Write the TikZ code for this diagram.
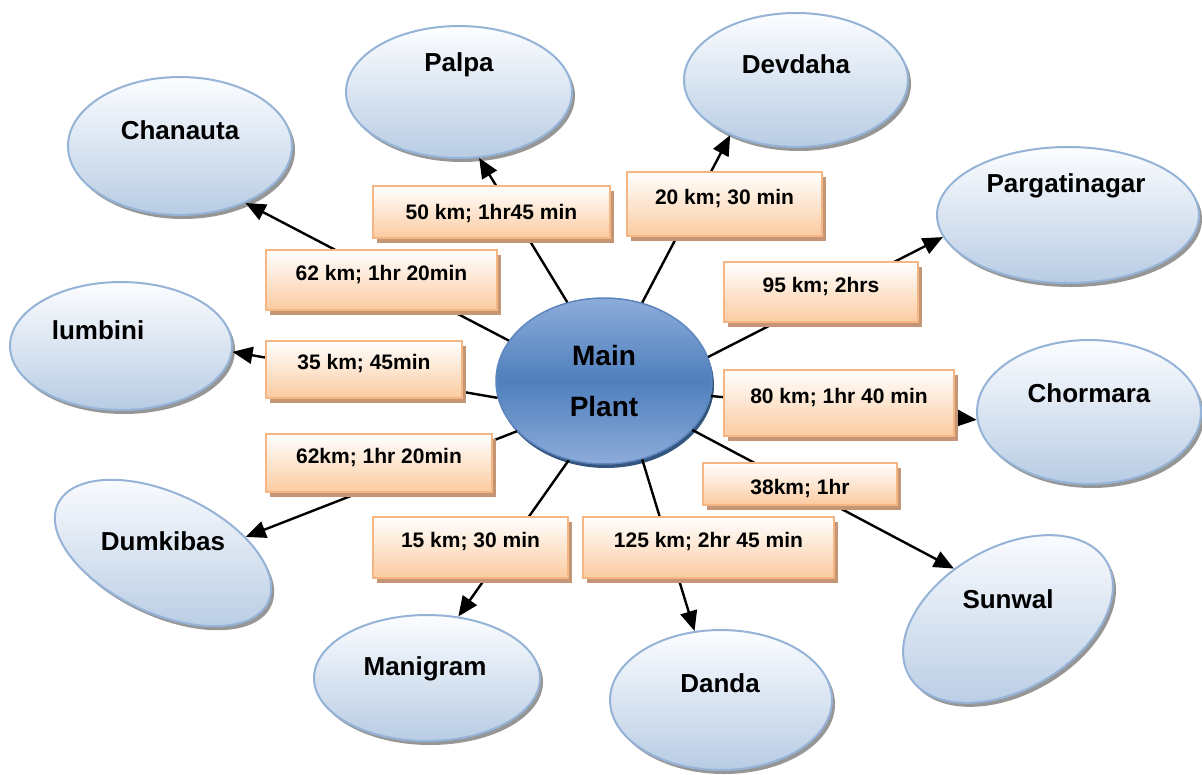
\documentclass[tikz,border=0pt]{standalone}
\usepackage{fontspec}
\setmainfont{Liberation Sans}
\usetikzlibrary{shapes.geometric,shadows,arrows.meta}

\definecolor{townedge}{RGB}{149,179,215}
\definecolor{towntop}{RGB}{252,253,255}
\definecolor{townbot}{RGB}{184,204,228}
\definecolor{townshadow}{RGB}{150,150,150}
\definecolor{hubedge}{RGB}{92,133,190}
\definecolor{hubmid}{RGB}{79,127,189}
\definecolor{hubrim}{RGB}{141,172,218}
\definecolor{hubshadow}{RGB}{52,85,126}
\definecolor{boxedge}{RGB}{246,182,132}
\definecolor{boxbot}{RGB}{251,203,160}
\definecolor{boxshadow}{RGB}{196,150,118}

\tikzset{
  town/.style={ellipse, draw=townedge, line width=2pt, inner sep=0pt,
    top color=towntop, bottom color=townbot,
    drop shadow={shadow xshift=3pt, shadow yshift=-4pt, fill=townshadow, opacity=1}},
  townname/.style={font=\fontsize{26}{30}\selectfont\bfseries},
  hub/.style={ellipse, draw=hubedge, line width=1.5pt, inner sep=0pt,
    top color=hubrim, bottom color=hubrim, middle color=hubmid,
    minimum width=216pt, minimum height=166pt, align=center,
    font=\fontsize{28}{51}\selectfont\bfseries,
    drop shadow={shadow xshift=2pt, shadow yshift=-4pt, fill=hubshadow, opacity=1}},
  dist/.style={rectangle, draw=boxedge, line width=2pt, inner sep=0pt,
    top color=white, bottom color=boxbot, text height=14pt, text depth=14pt,
    font=\fontsize{21}{25}\selectfont\bfseries,
    drop shadow={shadow xshift=4pt, shadow yshift=-5pt, fill=boxshadow, opacity=1}},
  link/.style={line width=2.4pt, -{Triangle[length=20pt,width=17pt]}}
}

\begin{document}
\begin{tikzpicture}[x=1pt,y=-1pt]
  \useasboundingbox (0,0) rectangle (1202,774);
  % towns round the plant
  \draw
    (459,92) node[town, minimum width=226pt, minimum height=132pt] (palpa){}
    (796,80) node[town, minimum width=224pt, minimum height=134pt] (devdaha){}
    (180,146) node[town, minimum width=224pt, minimum height=138pt] (chanauta){}
    (1068,215) node[town, minimum width=262pt, minimum height=136pt] (pargatinagar){}
    (121,346) node[town, minimum width=222pt, minimum height=128pt] (lumbini){}
    (1089,412) node[town, minimum width=224pt, minimum height=144pt] (chormara){}
    (163,553) node[town, minimum width=232pt, minimum height=120pt, rotate=-25] (dumkibas){}
    (1008,619) node[town, minimum width=228pt, minimum height=142pt, rotate=30] (sunwal){}
    (427,678) node[town, minimum width=226pt, minimum height=126pt] (manigram){}
    (721,700) node[town, minimum width=222pt, minimum height=140pt] (danda){};
  \draw
    (459,65) node[townname] (palpa-n){Palpa}
    (796,64) node[townname] (devdaha-n){Devdaha}
    (180,130) node[townname] (chanauta-n){Chanauta}
    (1066,186) node[townname] (pargatinagar-n){Pargatinagar}
    (98,330) node[townname] (lumbini-n){lumbini}
    (1089,393) node[townname] (chormara-n){Chormara}
    (163,541) node[townname] (dumkibas-n){Dumkibas}
    (1008,599) node[townname] (sunwal-n){Sunwal}
    (425,669) node[townname] (manigram-n){Manigram}
    (720,683) node[townname] (danda-n){Danda};
  \node[hub] (main) at (604,381) {Main\\Plant};
  \begin{scope}[link]
    \draw (main.115) to (palpa.-73);
    \draw (main.64) to (devdaha.220);
    \draw (main.157) to (chanauta.-41);
    \draw (main.13) to (pargatinagar.190);
    \draw (main.189) to (lumbini.-3);
    \draw (main.-8) to (chormara.184);
    \draw (main.210) to (dumkibas.36);
    \draw (main.-29) to (sunwal.107);
    \draw (main.246) to (manigram.63);
    \draw (main.296) to (danda.111);
  \end{scope}
  % distance and time on each road
  \draw
    (491.5,212) node[dist, minimum width=237pt, minimum height=52pt, text depth=0pt] (palpa-d){50 km; 1hr45 min}
    (724.5,204) node[dist, minimum width=195pt, minimum height=64pt] (devdaha-d){20 km; 30 min}
    (381.5,280) node[dist, minimum width=231pt, minimum height=60pt] (chanauta-d){62 km; 1hr 20min}
    (821,292) node[dist, minimum width=194pt, minimum height=60pt] (pargatinagar-d){95 km; 2hrs}
    (364,369.5) node[dist, minimum width=196pt, minimum height=57pt] (lumbini-d){35 km; 45min}
    (839,403) node[dist, minimum width=230pt, minimum height=66pt] (chormara-d){80 km; 1hr 40 min}
    (379,463) node[dist, minimum width=226pt, minimum height=58pt] (dumkibas-d){62km; 1hr 20min}
    (800,484) node[dist, minimum width=194pt, minimum height=42pt, text height=20pt, text depth=0pt] (sunwal-d){38km; 1hr}
    (470.5,547.5) node[dist, minimum width=195pt, minimum height=61pt] (manigram-d){15 km; 30 min}
    (708.5,547.5) node[dist, minimum width=251pt, minimum height=61pt] (danda-d){125 km; 2hr 45 min};
\end{tikzpicture}
\end{document}
